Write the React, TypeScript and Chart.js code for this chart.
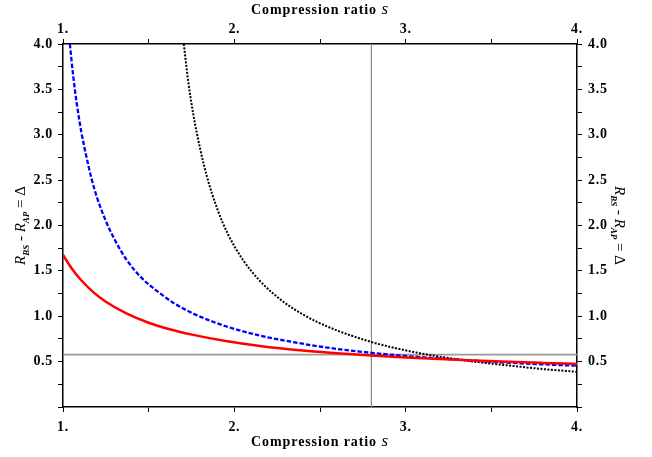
import React, { useEffect, useRef } from 'react';
import { Chart, registerables } from 'chart.js';

Chart.register(...registerables);

const FONT = '"Liberation Serif", "Times New Roman", serif';

// Solid red curve
const redX = [1.0, 1.05, 1.1, 1.175, 1.25, 1.37, 1.5, 1.6, 1.76, 1.95, 2.15, 2.4, 2.6, 2.8, 3.0, 3.2, 3.4, 3.6, 3.8, 4.0];
const redY = [1.675, 1.53, 1.41, 1.268, 1.16, 1.032, 0.928, 0.868, 0.795, 0.727, 0.672, 0.622, 0.593, 0.567, 0.546, 0.528, 0.512, 0.498, 0.486, 0.475];

// Dashed blue curve
const blueX = [1.04, 1.06, 1.08, 1.107, 1.14, 1.166, 1.2, 1.25, 1.3, 1.37, 1.46, 1.565, 1.65, 1.76, 1.85, 1.955, 2.15, 2.3, 2.48, 2.675, 2.8, 3.0, 3.2, 3.4, 3.6, 3.8, 4.0];
const blueY = [4.0, 3.64, 3.35, 3.03, 2.73, 2.52, 2.3, 2.05, 1.85, 1.625, 1.42, 1.255, 1.14, 1.03, 0.957, 0.887, 0.786, 0.73, 0.672, 0.622, 0.597, 0.562, 0.535, 0.51, 0.488, 0.47, 0.455];

// Dotted black curve
const blackX = [1.705, 1.73, 1.76, 1.8, 1.84, 1.9, 1.964, 2.05, 2.15, 2.286, 2.4, 2.48, 2.6, 2.675, 2.8, 2.97, 3.16, 3.4, 3.59, 3.8, 4.0];
const blackY = [4.0, 3.6, 3.23, 2.85, 2.54, 2.185, 1.9, 1.622, 1.388, 1.16, 1.02, 0.94, 0.843, 0.792, 0.716, 0.636, 0.567, 0.5, 0.46, 0.418, 0.388];

// Reference lines
const hLineX = [1, 4];
const hLineY = [0.577, 0.577];
const vLineX = [2.8, 2.8];
const vLineY = [0, 4];

const xRange = [1, 4];
const yRange = [0, 4];

const pts = (xs: number[], ys: number[]) => xs.map((x, i) => ({ x, y: ys[i] }));

type Seg = { t: string; font: string; dy: number };

function drawSegs(ctx: CanvasRenderingContext2D, segs: Seg[], cx: number, cy: number, rot: number, spacing: string) {
  ctx.save();
  ctx.translate(cx, cy);
  ctx.rotate(rot);
  (ctx as any).letterSpacing = spacing;
  ctx.textBaseline = 'alphabetic';
  ctx.textAlign = 'left';
  ctx.fillStyle = '#000';
  let w = 0;
  for (const s of segs) {
    ctx.font = s.font;
    w += ctx.measureText(s.t).width;
  }
  let x = -w / 2;
  for (const s of segs) {
    ctx.font = s.font;
    ctx.fillText(s.t, x, 5 + s.dy);
    x += ctx.measureText(s.t).width;
  }
  ctx.restore();
}

const titlePlugin = {
  id: 'titles',
  beforeDraw(chart: any) {
    (chart.ctx as any).letterSpacing = '0.7px';
  },
  afterDraw(chart: any) {
    const ctx = chart.ctx as CanvasRenderingContext2D;
    const ca = chart.chartArea;
    const cx = (ca.left + ca.right) / 2;
    const cy = (ca.top + ca.bottom) / 2;
    const xt: Seg[] = [
      { t: 'Compression ratio ', font: `bold 14px ${FONT}`, dy: 0 },
      { t: 's', font: `italic 17px ${FONT}`, dy: 0 },
    ];
    drawSegs(ctx, xt, cx, 9, 0, '0.9px');
    drawSegs(ctx, xt, cx, 441, 0, '0.9px');
    const yt: Seg[] = [
      { t: 'R', font: `italic 15px ${FONT}`, dy: 0 },
      { t: 'BS', font: `italic bold 9px ${FONT}`, dy: 4 },
      { t: ' - ', font: `15px ${FONT}`, dy: 0 },
      { t: 'R', font: `italic 15px ${FONT}`, dy: 0 },
      { t: 'AP', font: `italic bold 9px ${FONT}`, dy: 4 },
      { t: ' = \u0394', font: `15px ${FONT}`, dy: 0 },
    ];
    drawSegs(ctx, yt, 20, cy, -Math.PI / 2, '0px');
    drawSegs(ctx, yt, 620, cy, Math.PI / 2, '0px');
  },
};

const tickFont = { family: FONT, size: 14, weight: 'bold' as const };

const xTickCb = (v: any) => {
  const n = Number(v);
  return Math.abs(n - Math.round(n)) < 1e-6 ? `${Math.round(n)}.` : '';
};
const yTickCb = (v: any) => {
  const n = Number(v);
  return n > 0.01 && Math.abs(n * 2 - Math.round(n * 2)) < 1e-6 ? n.toFixed(1) : '';
};

const grid = { drawOnChartArea: false, drawTicks: true, tickLength: 5, tickColor: '#000', lineWidth: 1 };
const border = { display: true, color: '#000', width: 1.5 };

export default function App() {
  const ref = useRef<HTMLCanvasElement>(null);
  useEffect(() => {
    if (!ref.current) return;
    const chart = new Chart(ref.current, {
      type: 'scatter',
      data: {
        datasets: [
          {
            label: 'red',
            data: pts(redX, redY),
            showLine: true,
            borderColor: '#ff0000',
            borderWidth: 2.5,
            pointRadius: 0,
            cubicInterpolationMode: 'monotone',
          },
          {
            label: 'blue',
            data: pts(blueX, blueY),
            showLine: true,
            borderColor: '#0000ff',
            borderWidth: 2.3,
            borderDash: [4.5, 2],
            pointRadius: 0,
            cubicInterpolationMode: 'monotone',
          },
          {
            label: 'black',
            data: pts(blackX, blackY),
            showLine: true,
            borderColor: '#000000',
            borderWidth: 2,
            borderDash: [2, 1.5],
            pointRadius: 0,
            cubicInterpolationMode: 'monotone',
          },
          {
            label: 'h',
            data: pts(hLineX, hLineY),
            showLine: true,
            borderColor: '#9a9a9a',
            borderWidth: 1.6,
            pointRadius: 0,
          },
          {
            label: 'v',
            data: pts(vLineX, vLineY),
            showLine: true,
            borderColor: '#8a8a8a',
            borderWidth: 1.2,
            pointRadius: 0,
          },
        ] as any,
      },
      options: {
        animation: false,
        responsive: false,
        maintainAspectRatio: false,
        layout: { padding: 0 },
        plugins: { legend: { display: false }, tooltip: { enabled: false } },
        scales: {
          x: {
            type: 'linear', axis: 'x', position: 'bottom', min: xRange[0], max: xRange[1],
            ticks: { stepSize: 0.5, callback: xTickCb, font: tickFont, color: '#000', padding: 7, maxRotation: 0, autoSkip: false },
            grid, border,
            afterFit: (s: any) => { s.height = 50; },
          },
          x2: {
            type: 'linear', axis: 'x', position: 'top', min: xRange[0], max: xRange[1],
            ticks: { stepSize: 0.5, callback: xTickCb, font: tickFont, color: '#000', padding: 1, maxRotation: 0, autoSkip: false },
            grid, border,
            afterFit: (s: any) => { s.height = 44; },
          },
          y: {
            type: 'linear', axis: 'y', position: 'left', min: yRange[0], max: yRange[1],
            ticks: { stepSize: 0.25, callback: yTickCb, font: tickFont, color: '#000', padding: 5, autoSkip: false },
            grid, border,
            afterFit: (s: any) => { s.width = 63; },
          },
          y2: {
            type: 'linear', axis: 'y', position: 'right', min: yRange[0], max: yRange[1],
            ticks: { stepSize: 0.25, callback: yTickCb, font: tickFont, color: '#000', padding: 6, autoSkip: false },
            grid, border,
            afterFit: (s: any) => { s.width = 75; },
          },
        } as any,
      },
      plugins: [titlePlugin],
    });
    return () => chart.destroy();
  }, []);
  return (
    <div style={{ position: 'fixed', left: 0, top: 0, width: 652, height: 457, background: '#fff' }}>
      <canvas ref={ref} width={652} height={457} />
    </div>
  );
}
